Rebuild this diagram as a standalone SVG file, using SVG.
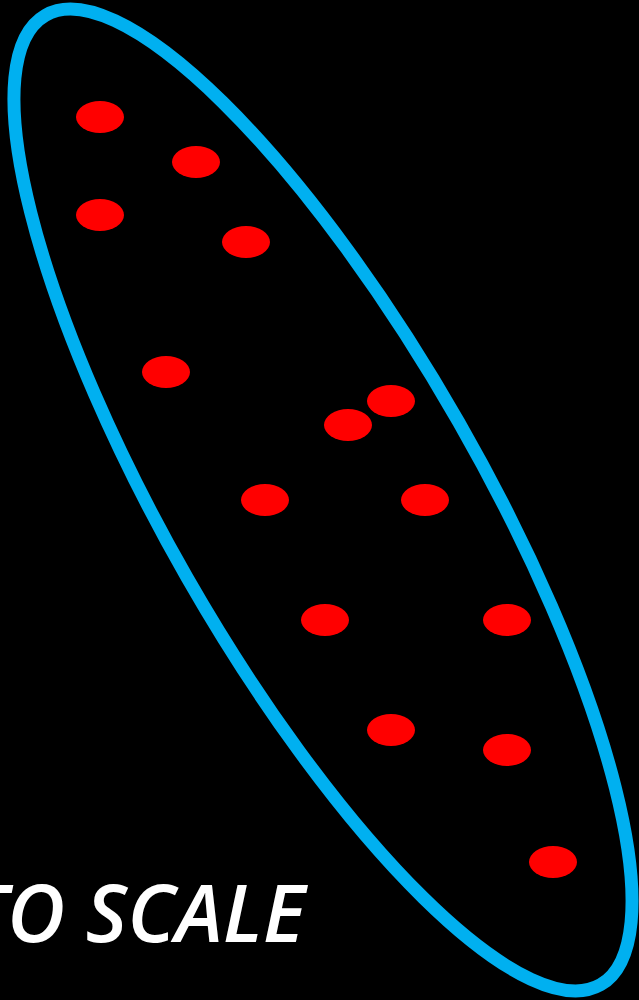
<svg xmlns="http://www.w3.org/2000/svg" width="639" height="1000" viewBox="0 0 639 1000">
<style>
.dot{fill:#FF0000}
.ring{fill:none;stroke:#00B0F0;stroke-width:13}
.lbl{fill:#FFFFFF;font-family:"Open Sans","Liberation Sans",sans-serif;font-style:italic;font-weight:600;font-size:80px}
</style>
<rect width="639" height="1000" fill="#000000"/>
<g id="boundary">
<ellipse class="ring" cx="323" cy="500" rx="558.6" ry="156.5" transform="rotate(60.2 323 500)"/>
</g>
<g id="points">
<ellipse class="dot" cx="100" cy="117" rx="24" ry="16"/>
<ellipse class="dot" cx="196" cy="162" rx="24" ry="16"/>
<ellipse class="dot" cx="100" cy="215" rx="24" ry="16"/>
<ellipse class="dot" cx="246" cy="242" rx="24" ry="16"/>
<ellipse class="dot" cx="166" cy="372" rx="24" ry="16"/>
<ellipse class="dot" cx="391" cy="401" rx="24" ry="16"/>
<ellipse class="dot" cx="348" cy="425" rx="24" ry="16"/>
<ellipse class="dot" cx="265" cy="500" rx="24" ry="16"/>
<ellipse class="dot" cx="425" cy="500" rx="24" ry="16"/>
<ellipse class="dot" cx="325" cy="620" rx="24" ry="16"/>
<ellipse class="dot" cx="507" cy="620" rx="24" ry="16"/>
<ellipse class="dot" cx="391" cy="730" rx="24" ry="16"/>
<ellipse class="dot" cx="507" cy="750" rx="24" ry="16"/>
<ellipse class="dot" cx="553" cy="862" rx="24" ry="16"/>
</g>
<g id="label">
<text class="lbl" x="305" y="942" text-anchor="end">TO SCALE</text>
</g>
</svg>
